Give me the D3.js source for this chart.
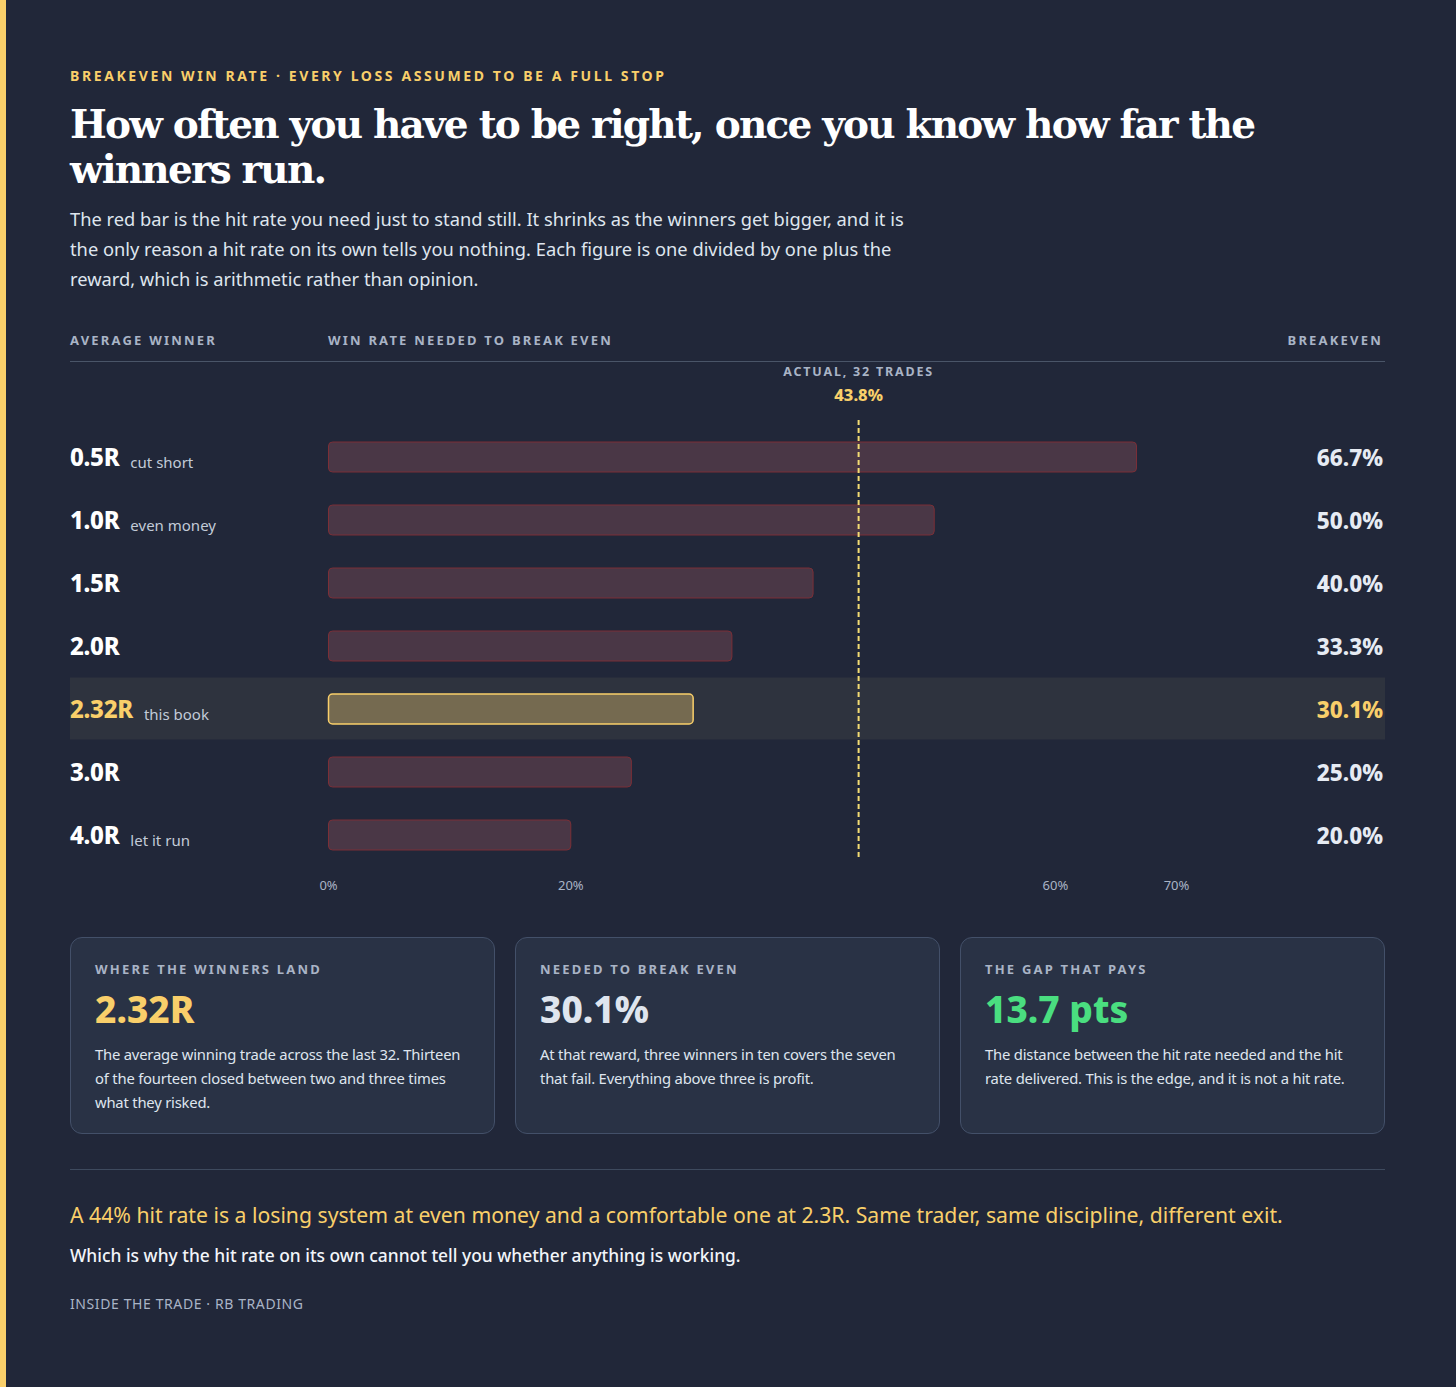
<!DOCTYPE html>
<html>
<head>
<meta charset="utf-8">
<script src="https://cdn.jsdelivr.net/npm/d3@7"></script>
<style>
  html, body { margin: 0; padding: 0; }
  body {
    width: 1456px; height: 1387px; background: #212739;
    font-family: "Noto Sans", "Open Sans", sans-serif; color: #e6ebf3;
    position: relative; overflow: hidden;
  }
  .edge { position: absolute; left: 0; top: 0; width: 6px; height: 1387px; background: #f9cf6a; }
  .eyebrow { position: absolute; left: 70px; top: 66px; font-size: 14px; font-weight: 700;
    letter-spacing: 2.6px; color: #f9cf6a; }
  h1 { position: absolute; left: 70px; top: 102px; margin: 0; width: 1320px;
    font-family: "DejaVu Serif", Georgia, serif; font-weight: 700; font-size: 39px;
    line-height: 45px; color: #ffffff; letter-spacing: -1.8px; }
  .lede { position: absolute; left: 70px; top: 204px; margin: 0; font-size: 18.3px;
    line-height: 30px; color: #dfe5ee; }
  #chart { position: absolute; left: 0; top: 0; }
  .cards { position: absolute; left: 70px; top: 937px; display: flex; gap: 20px; }
  .card { width: 425px; height: 197px; box-sizing: border-box; background: #293245;
    border: 1px solid #435069; border-radius: 12px; padding: 22px 24px; }
  .card .lab { font-size: 13px; font-weight: 700; letter-spacing: 2.2px; color: #a9b4c6; }
  .card .big { font-size: 37px; font-weight: 800; margin-top: 8px; line-height: 46px; }
  .card .txt { font-size: 14.8px; line-height: 24px; color: #dfe5ee; margin-top: 10px;
    letter-spacing: -0.2px; }
  .rule { position: absolute; left: 70px; top: 1169px; width: 1315px; height: 1px; background: #3e4a5e; }
  .punch { position: absolute; left: 70px; top: 1200px; font-size: 21.2px; color: #f9cf6a; }
  .sub { position: absolute; left: 70px; top: 1243px; font-size: 17.4px; color: #f2f5f9; font-weight: 500; }
  .foot { position: absolute; left: 70px; top: 1294px; font-size: 14px; color: #a9b4c6; letter-spacing: 0.6px; }
</style>
</head>
<body>
<div class="edge"></div>
<div class="eyebrow">BREAKEVEN WIN RATE · EVERY LOSS ASSUMED TO BE A FULL STOP</div>
<h1>How often you have to be right, once you know how far the<br>winners run.</h1>
<p class="lede">The red bar is the hit rate you need just to stand still. It shrinks as the winners get bigger, and it is<br>the only reason a hit rate on its own tells you nothing. Each figure is one divided by one plus the<br>reward, which is arithmetic rather than opinion.</p>
<svg id="chart" width="1456" height="920"></svg>
<div class="cards" id="cards"></div>
<div class="rule"></div>
<div class="punch">A 44% hit rate is a losing system at even money and a comfortable one at 2.3R. Same trader, same discipline, different exit.</div>
<div class="sub">Which is why the hit rate on its own cannot tell you whether anything is working.</div>
<div class="foot">INSIDE THE TRADE · RB TRADING</div>
<script>
// chart values
const rewards = ["0.5R", "1.0R", "1.5R", "2.0R", "2.32R", "3.0R", "4.0R"];
const notes = ["cut short", "even money", "", "", "this book", "", "let it run"];
const breakeven = [66.7, 50.0, 40.0, 33.3, 30.1, 25.0, 20.0];
const highlight = "2.32R";
const actualRate = 43.8;
const actualLabel = "ACTUAL, 32 TRADES";
const tickValues = [0, 20, 60, 70];

const cardLabels = ["WHERE THE WINNERS LAND", "NEEDED TO BREAK EVEN", "THE GAP THAT PAYS"];
const cardValues = ["2.32R", "30.1%", "13.7 pts"];
const cardColors = ["#f9cf6a", "#dfe5ee", "#4ade80"];
const cardTexts = [
  "The average winning trade across the last 32. Thirteen of the fourteen closed between two and three times what they risked.",
  "At that reward, three winners in ten covers the seven that fail. Everything above three is profit.",
  "The distance between the hit rate needed and the hit rate delivered. This is the edge, and it is not a hit rate."
];

const yellow = "#f9cf6a", grey = "#a9b4c6";
const rows = rewards.map((r, i) => ({ r, note: notes[i], v: breakeven[i] }));

const svg = d3.select("#chart");
const x = d3.scaleLinear().domain([0, 70]).range([328, 1176]);
const y = d3.scaleBand().domain(rewards).range([425.5, 866.5]).padding(0);
const barH = 30;

// column headers
const head = svg.append("g").attr("font-size", 13).attr("font-weight", 700)
  .attr("letter-spacing", "2.2px").attr("fill", grey);
head.append("text").attr("x", 70).attr("y", 345).text("AVERAGE WINNER");
head.append("text").attr("x", 328).attr("y", 345).text("WIN RATE NEEDED TO BREAK EVEN");
head.append("text").attr("x", 1383).attr("y", 345).attr("text-anchor", "end").text("BREAKEVEN");
svg.append("line").attr("x1", 70).attr("x2", 1385).attr("y1", 361.5).attr("y2", 361.5)
  .attr("stroke", "#4a5568");

// highlighted row band
svg.append("rect")
  .attr("x", 70).attr("width", 1315)
  .attr("y", y(highlight)).attr("height", y.bandwidth() - 1)
  .attr("fill", "#2e333e");

// bars
svg.selectAll(".bar").data(rows).enter().append("rect")
  .attr("class", "bar")
  .attr("x", x(0) + 0.5)
  .attr("y", d => y(d.r) + (y.bandwidth() - barH) / 2)
  .attr("width", d => x(d.v) - x(0))
  .attr("height", barH)
  .attr("rx", 4)
  .attr("fill", d => d.r === highlight ? "#756a50" : "#4a3746")
  .attr("stroke", d => d.r === highlight ? yellow : "#7b2f37")
  .attr("stroke-width", d => d.r === highlight ? 1.5 : 1);

// row labels
const lab = svg.selectAll(".lab").data(rows).enter().append("text")
  .attr("class", "lab")
  .attr("x", 70)
  .attr("y", d => y(d.r) + y.bandwidth() / 2 + 9);
lab.append("tspan")
  .attr("font-size", 24).attr("font-weight", 800)
  .attr("letter-spacing", "-0.3px")
  .attr("fill", d => d.r === highlight ? yellow : "#ffffff")
  .text(d => d.r);
lab.append("tspan")
  .attr("dx", 11).attr("dy", 2)
  .attr("font-size", 15).attr("fill", "#c3cbd8")
  .text(d => d.note);

// breakeven values
svg.selectAll(".val").data(rows).enter().append("text")
  .attr("class", "val")
  .attr("x", 1383)
  .attr("y", d => y(d.r) + y.bandwidth() / 2 + 9)
  .attr("text-anchor", "end")
  .attr("font-size", 22.5).attr("font-weight", 800)
  .attr("fill", d => d.r === highlight ? yellow : "#e6ebf3")
  .text(d => d.v.toFixed(1) + "%");

// actual hit rate marker
svg.append("line")
  .attr("x1", x(actualRate)).attr("x2", x(actualRate))
  .attr("y1", 420).attr("y2", 858)
  .attr("stroke", "#f3dc73").attr("stroke-width", 2)
  .attr("stroke-dasharray", "5 3");
svg.append("text")
  .attr("x", x(actualRate)).attr("y", 376)
  .attr("text-anchor", "middle").attr("font-size", 12.5).attr("font-weight", 700)
  .attr("letter-spacing", "1.8px").attr("fill", grey)
  .text(actualLabel);
svg.append("text")
  .attr("x", x(actualRate)).attr("y", 401)
  .attr("text-anchor", "middle").attr("font-size", 16.5).attr("font-weight", 800)
  .attr("fill", yellow)
  .text(actualRate.toFixed(1) + "%");

// axis
svg.append("g")
  .attr("transform", "translate(0,878)")
  .call(d3.axisBottom(x).tickValues(tickValues).tickSize(0).tickFormat(d => d + "%"))
  .call(g => g.select(".domain").remove())
  .call(g => g.selectAll("text").attr("font-size", 13).attr("fill", grey)
    .attr("font-family", "Noto Sans, sans-serif"));

// summary cards
const cards = d3.select("#cards").selectAll(".card")
  .data(cardLabels.map((l, i) => ({ l, v: cardValues[i], c: cardColors[i], t: cardTexts[i] })))
  .enter().append("div").attr("class", "card");
cards.append("div").attr("class", "lab").text(d => d.l);
cards.append("div").attr("class", "big").style("color", d => d.c).text(d => d.v);
cards.append("div").attr("class", "txt").text(d => d.t);
</script>
</body>
</html>
